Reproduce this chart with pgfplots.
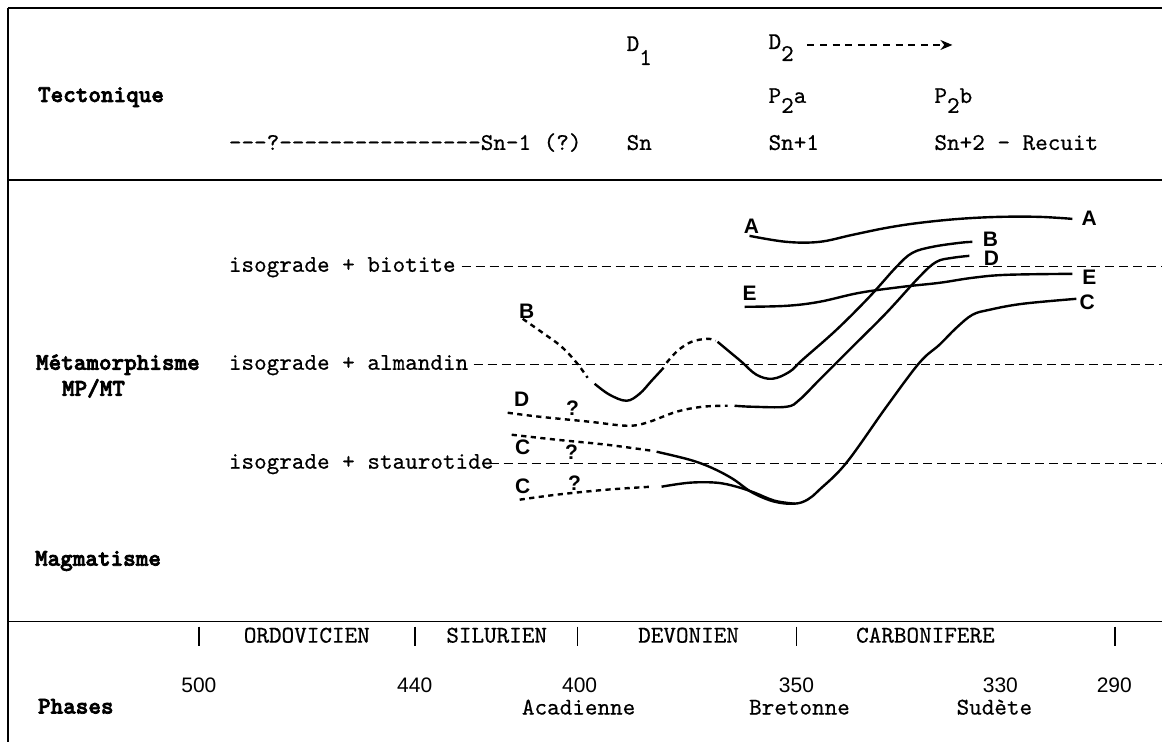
\documentclass[border=0pt]{standalone}
\usepackage{pgfplots}
\pgfplotsset{compat=1.18}
\usepackage{fontspec}
\setmainfont{Liberation Serif}
\newfontfamily\lbl{Liberation Sans}
\newfontfamily\hdfont{lmmonolt10-bold}[Extension=.otf, FakeBold=3]
\newfontfamily\twfont{lmmono10-regular}[Extension=.otf, FakeBold=0.5]
\usetikzlibrary{arrows.meta}

% typewriter text, bold headings, curve letters, numbers
\newcommand{\tw}{\fontsize{12}{14}\selectfont\twfont}
\newcommand{\hd}{\fontsize{12}{14}\selectfont\hdfont}
\newcommand{\cl}{\fontsize{10.5}{12}\selectfont\lbl\bfseries}
\newcommand{\nm}{\fontsize{10.5}{12}\selectfont\lbl}

\begin{document}
\begin{tikzpicture}
\begin{axis}[width=581.5pt, height=371pt, scale only axis,
             xmin=0, xmax=1163, ymin=0, ymax=742, y dir=reverse,
             axis lines=none, clip=false,
             curve/.style={black, line width=1.2pt, smooth, tension=0.6, no markers},
             curved/.style={curve, dash pattern=on 2.6pt off 2.2pt},
             iso/.style={black, line width=0.65pt, dash pattern=on 4.5pt off 2.5pt, no markers}]

\path (axis cs:0,0) rectangle (axis cs:1163,742);

% frame
\draw[line width=0.75pt] (axis cs:8,8) -- (axis cs:1163,8);
\draw[line width=0.75pt] (axis cs:8,180) -- (axis cs:1163,180);
\draw[line width=0.75pt] (axis cs:8,622) -- (axis cs:1163,622);
\draw[line width=0.75pt] (axis cs:8,8) -- (axis cs:8,742);

% isogrades
\addplot[iso] coordinates {(462,267) (1163,267)};
\addplot[iso] coordinates {(474,365) (1163,365)};
\addplot[iso] coordinates {(490,464) (1163,464)};

% A
\addplot[curve] coordinates {
 (750,236) (787,242) (820,242) (853,235) (887,228) (920,223)
 (960,219) (1000,217) (1040,217) (1073,219)};
% E
\addplot[curve] coordinates {
 (745,307) (787,306) (820,302) (860,293) (903,287) (940,283)
 (973,278) (1007,275) (1073,274)};
% B
\addplot[curved] coordinates {(523,319) (543,333) (562,347) (577,363) (588,378)};
\addplot[curve] coordinates {(595,384) (610,395) (627,401) (640,394) (652,381) (664,368)};
\addplot[curved] coordinates {(667,363) (678,351) (692,342) (708,339) (716,341)};
\addplot[curve] coordinates {
 (718,342) (730,352) (742,362) (757,375) (773,379) (790,372) (803,360)
 (837,330) (870,297) (897,267) (913,253) (933,247) (960,243) (973,242)};
% D
\addplot[curved] coordinates {
 (508,413) (540,417) (590,422) (627,426) (647,423) (677,412) (703,407) (728,406)};
\addplot[curve] coordinates {
 (735,406) (753,407) (787,407) (800,400) (820,380) (853,347) (887,313)
 (920,277) (937,262) (953,258) (970,256)};
% C (upper branch, continues to the right)
\addplot[curved] coordinates {(512,435) (557,440) (607,445) (652,451)};
\addplot[curve] coordinates {
 (657,452) (690,460) (712,468) (733,479) (753,493) (775,502) (795,504)
 (808,500) (820,490) (847,463) (887,407) (920,363) (940,345) (957,328)
 (973,315) (990,310) (1023,304) (1077,299)};
% C (lower branch)
\addplot[curved] coordinates {(520,500) (557,495) (607,490) (652,487)};
\addplot[curve] coordinates {
 (662,487) (690,483) (717,483) (737,487) (755,493) (775,501) (795,504)};

% curve letters
\node[font=\cl] at (axis cs:752,226) {A};
\node[font=\cl] at (axis cs:1090,218) {A};
\node[font=\cl] at (axis cs:527,311) {B};
\node[font=\cl] at (axis cs:991,239) {B};
\node[font=\cl] at (axis cs:522,400) {D};
\node[font=\cl] at (axis cs:573,408) {?};
\node[font=\cl] at (axis cs:992,258) {D};
\node[font=\cl] at (axis cs:750,293) {E};
\node[font=\cl] at (axis cs:1090,277) {E};
\node[font=\cl] at (axis cs:523,448) {C};
\node[font=\cl] at (axis cs:572,452) {?};
\node[font=\cl] at (axis cs:523,487) {C};
\node[font=\cl] at (axis cs:575,483) {?};
\node[font=\cl] at (axis cs:1088,302) {C};

% tectonique block
\node[anchor=base west, font=\hd] at (axis cs:31,102) {Tectonique};
\node[anchor=base west, font=\tw] at (axis cs:620,51) {D\raisebox{-7pt}{1}};
\node[anchor=base west, font=\tw] at (axis cs:762,49) {D\raisebox{-6pt}{2}};
\draw[line width=0.7pt, dash pattern=on 3.5pt off 2.8pt, -{Stealth[length=6pt,width=5pt]}]
  (axis cs:808,45) -- (axis cs:953,45);
\node[anchor=base west, font=\tw] at (axis cs:762,103) {P\raisebox{-5pt}{2}a};
\node[anchor=base west, font=\tw] at (axis cs:928,103) {P\raisebox{-5pt}{2}b};
\node[anchor=base west, font=\tw] at (axis cs:222,150) {---?----------------Sn-1 (?)};
\node[anchor=base west, font=\tw] at (axis cs:620,150) {Sn};
\node[anchor=base west, font=\tw] at (axis cs:762,150) {Sn+1};
\node[anchor=base west, font=\tw] at (axis cs:928,150) {Sn+2 - Recuit};

% metamorphisme block
\node[anchor=base west, font=\tw] at (axis cs:222,272) {isograde + biotite};
\node[anchor=base west, font=\tw] at (axis cs:222,370) {isograde + almandin};
\node[anchor=base west, font=\tw] at (axis cs:222,469) {isograde + staurotide};
\node[anchor=base west, font=\hd] at (axis cs:29,370) {Métamorphisme};
\node[anchor=base west, font=\hd] at (axis cs:55,396) {MP/MT};
\node[anchor=base west, font=\hd] at (axis cs:28,566) {Magmatisme};

% time scale
\draw[line width=0.8pt] (axis cs:199,627) -- (axis cs:199,646);
\draw[line width=0.8pt] (axis cs:415,627) -- (axis cs:415,646);
\draw[line width=0.8pt] (axis cs:578,627) -- (axis cs:578,646);
\draw[line width=0.8pt] (axis cs:797,627) -- (axis cs:797,646);
\draw[line width=0.8pt] (axis cs:1116,627) -- (axis cs:1116,646);
\node[anchor=base, font=\tw] at (axis cs:307,643) {ORDOVICIEN};
\node[anchor=base, font=\tw] at (axis cs:497,643) {SILURIEN};
\node[anchor=base, font=\tw] at (axis cs:689,643) {DEVONIEN};
\node[anchor=base, font=\tw] at (axis cs:926,643) {CARBONIFERE};
\node[anchor=base, font=\nm] at (axis cs:199,693) {500};
\node[anchor=base, font=\nm] at (axis cs:415,693) {440};
\node[anchor=base, font=\nm] at (axis cs:580,693) {400};
\node[anchor=base, font=\nm] at (axis cs:797,693) {350};
\node[anchor=base, font=\nm] at (axis cs:1001,693) {330};
\node[anchor=base, font=\nm] at (axis cs:1115,693) {290};
\node[anchor=base west, font=\hd] at (axis cs:31,714) {Phases};
\node[anchor=base, font=\tw] at (axis cs:579,715) {Acadienne};
\node[anchor=base, font=\tw] at (axis cs:800,715) {Bretonne};
\node[anchor=base, font=\tw] at (axis cs:995,715) {Sudète};

\end{axis}
\end{tikzpicture}
\end{document}
